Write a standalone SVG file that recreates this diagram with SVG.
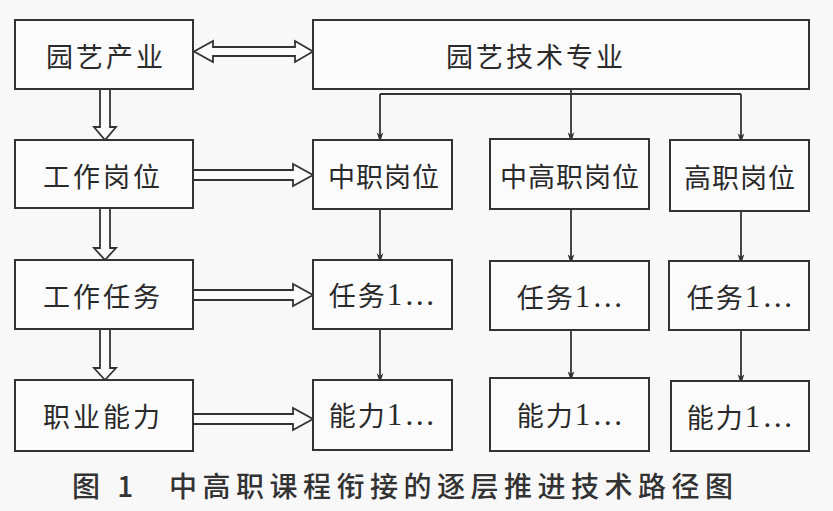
<svg xmlns="http://www.w3.org/2000/svg" width="833" height="511" viewBox="0 0 833 511">
<defs>
<style>
.box{fill:#fbfbfb;stroke:#333;stroke-width:2}
.t{font-family:"Noto Sans CJK SC","Noto Sans CJK JP",sans-serif;font-size:27px;fill:#2a2a2a;text-anchor:middle;dominant-baseline:central;letter-spacing:3px}
.n{font-family:"Liberation Serif",serif;font-size:31px}
.ln{fill:none;stroke:#333;stroke-width:1.8;marker-end:url(#ah)}
.ha{fill:#fbfbfb;stroke:#333;stroke-width:1.8;stroke-linejoin:miter}
.cap{font-family:"Noto Sans CJK SC",sans-serif;font-size:28px;font-weight:500;fill:#333;dominant-baseline:central;letter-spacing:5.5px}
</style>
<marker id="ah" markerUnits="userSpaceOnUse" markerWidth="10" markerHeight="15" refX="10" refY="5" orient="auto" viewBox="0 0 15 10">
<path d="M0,0 L15,5 L0,10 L4,5 z" fill="#333"/>
</marker>
</defs>
<rect width="833" height="511" fill="#f8f8f8"/>

<g id="connectors">
<polygon class="ha" points="194,51.5 213,41 213,47 295,47 295,41 313,51.5 295,62 295,56 213,56 213,62"/>
<polygon class="ha" points="100,89 110,89 110,127 116,127 105,140 94,127 100,127"/>
<polygon class="ha" points="100,208 110,208 110,248 116,248 105,260 94,248 100,248"/>
<polygon class="ha" points="100,329 110,329 110,368 116,368 105,380 94,368 100,368"/>
<polygon class="ha" points="193,170 293,170 293,164 313,175 293,186 293,180 193,180"/>
<polygon class="ha" points="193,290 293,290 293,284 313,295 293,306 293,300 193,300"/>
<polygon class="ha" points="193,414 293,414 293,408 313,419 293,430 293,424 193,424"/>
<path d="M380,94 H741" fill="none" stroke="#333" stroke-width="1.8"/>
<path class="ln" d="M380,94 V139"/>
<path class="ln" d="M571,89 V139"/>
<path class="ln" d="M741,94 V140"/>
<path class="ln" d="M380,209 V260"/>
<path class="ln" d="M571,209 V261"/>
<path class="ln" d="M741,211 V261"/>
<path class="ln" d="M380,329 V380"/>
<path class="ln" d="M571,330 V378"/>
<path class="ln" d="M741,330 V381"/>
</g>

<g id="n1"><rect class="box" x="15" y="20" width="178" height="69"/><text class="t" x="106" y="55">园艺产业</text></g>
<g id="n2"><rect class="box" x="15" y="140" width="178" height="68"/><text class="t" x="103" y="175">工作岗位</text></g>
<g id="n3"><rect class="box" x="15" y="260" width="178" height="69"/><text class="t" x="103" y="295">工作任务</text></g>
<g id="n4"><rect class="box" x="15" y="380" width="178" height="71"/><text class="t" x="103" y="415">职业能力</text></g>

<g id="n5"><rect class="box" x="313" y="20" width="496" height="69"/><text class="t" x="536" y="55">园艺技术专业</text></g>

<g id="n6"><rect class="box" x="313" y="140" width="139" height="69"/><text class="t" style="letter-spacing:1px" x="384" y="175">中职岗位</text></g>
<g id="n7"><rect class="box" x="490" y="139" width="159" height="70"/><text class="t" style="letter-spacing:1px" x="570" y="175">中高职岗位</text></g>
<g id="n8"><rect class="box" x="670" y="140" width="139" height="71"/><text class="t" style="letter-spacing:1px" x="740" y="176">高职岗位</text></g>

<g id="n9"><rect class="box" x="313" y="260" width="139" height="69"/><text class="t" style="letter-spacing:2px" x="383" y="294">任务<tspan class="n">1…</tspan></text></g>
<g id="n10"><rect class="box" x="490" y="261" width="159" height="69"/><text class="t" style="letter-spacing:2px" x="571" y="296">任务<tspan class="n">1…</tspan></text></g>
<g id="n11"><rect class="box" x="669" y="261" width="140" height="69"/><text class="t" style="letter-spacing:2px" x="741" y="296">任务<tspan class="n">1…</tspan></text></g>

<g id="n12"><rect class="box" x="313" y="380" width="139" height="70"/><text class="t" style="letter-spacing:2px" x="383" y="414">能力<tspan class="n">1…</tspan></text></g>
<g id="n13"><rect class="box" x="490" y="378" width="159" height="73"/><text class="t" style="letter-spacing:2px" x="571" y="414">能力<tspan class="n">1…</tspan></text></g>
<g id="n14"><rect class="box" x="671" y="381" width="138" height="70"/><text class="t" style="letter-spacing:2px" x="741" y="416">能力<tspan class="n">1…</tspan></text></g>

<g id="caption">
<text class="cap" x="72" y="485">图 1</text>
<text class="cap" x="169" y="485">中高职课程衔接的逐层推进技术路径图</text>
</g>
</svg>
